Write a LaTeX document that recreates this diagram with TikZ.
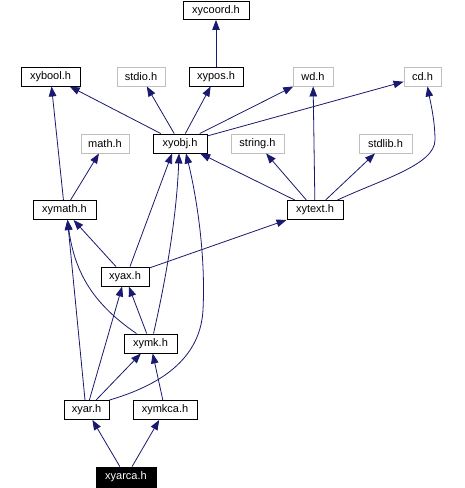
\documentclass[tikz,border=0pt]{standalone}
\usepackage{fontspec}
\setmainfont{Liberation Sans}
\usetikzlibrary{arrows.meta}
\definecolor{edgecol}{RGB}{25,25,112}
\definecolor{graybox}{RGB}{191,191,191}
\begin{document}
\begin{tikzpicture}[x=1pt,y=-1pt,
  hbox/.style={draw=black,line width=0.9pt,fill=white,inner sep=0pt,minimum height=19pt,font=\fontsize{11}{12}\selectfont},
  sysbox/.style={hbox,draw=graybox},
  rootbox/.style={hbox,fill=black,text=white},
  edge/.style={draw=edgecol,line width=0.8pt,-{Triangle[length=10pt,width=7.5pt]}}]
\useasboundingbox[fill=white] (0,0) rectangle (465,488);
% nodes
\node[hbox,minimum width=66pt,minimum height=18pt] (xycoord) at (216,10.5) {xycoord.h};
\node[hbox,minimum width=59pt] (xybool) at (50.5,76.5) {xybool.h};
\node[sysbox,minimum width=48pt] (stdio) at (141,76.5) {stdio.h};
\node[hbox,minimum width=54pt] (xypos) at (216,76.5) {xypos.h};
\node[sysbox,minimum width=40pt] (wd) at (313,76.5) {wd.h};
\node[sysbox,minimum width=37pt] (cd) at (422.5,76.5) {cd.h};
\node[sysbox,minimum width=48pt] (math) at (105,143.5) {math.h};
\node[hbox,minimum width=54pt] (xyobj) at (180,143.5) {xyobj.h};
\node[sysbox,minimum width=53pt] (string) at (257.5,143.5) {string.h};
\node[sysbox,minimum width=53pt] (stdlib) at (385.5,143.5) {stdlib.h};
\node[hbox,minimum width=63pt] (xymath) at (64.5,210) {xymath.h};
\node[hbox,minimum width=56pt] (xytext) at (315,210) {xytext.h};
\node[hbox,minimum width=48pt] (xyax) at (125,276.5) {xyax.h};
\node[hbox,minimum width=53pt] (xymk) at (150.5,343.5) {xymk.h};
\node[hbox,minimum width=45pt] (xyar) at (86.5,410) {xyar.h};
\node[hbox,minimum width=64pt] (xymkca) at (165,410) {xymkca.h};
\node[rootbox,minimum width=60pt,minimum height=20pt] (xyarca) at (126,477) {xyarca.h};
% edges
\draw[edge] (xypos) -- (xycoord);
\draw[edge] (xyobj) -- (xybool);
\draw[edge] (xyobj) -- (stdio);
\draw[edge] (xyobj) -- (xypos);
\draw[edge] (xyobj) -- (wd);
\draw[edge] (xyobj) -- (cd);
\draw[edge] (xymath) -- (xybool);
\draw[edge] (xymath) -- (math);
\draw[edge] (xytext) -- (xyobj);
\draw[edge] (xytext) -- (string);
\draw[edge] (xytext) -- (wd);
\draw[edge] (xytext) -- (stdlib);
\draw[edge] ([xshift=-6pt]xytext.north east) .. controls (380,180) and (435,165) .. (435,140) .. controls (435,120) and (430,100) .. ([xshift=5pt]cd.south);
\draw[edge] (xyax) -- (xymath);
\draw[edge] ([xshift=5pt]xyax.north) -- ([xshift=-8pt]xyobj.south);
\draw[edge] (xyax) -- (xytext);
\draw[edge] ([xshift=-14pt]xymk.north) .. controls (95,305) and (75,275) .. ([xshift=3pt]xymath.south);
\draw[edge] (xymk) -- (xyax);
\draw[edge] ([xshift=3pt]xymk.north) .. controls (168,270) and (177,210) .. ([xshift=-1pt]xyobj.south);
\draw[edge] ([xshift=-1.5pt]xyar.north) -- ([xshift=3pt]xymath.south);
\draw[edge] (xyar) -- (xyax);
\draw[edge] (xyar) -- (xymk);
\draw[edge] (xyar.north east) .. controls (150,388) and (200,365) .. (203,310) .. controls (206,250) and (195,190) .. ([xshift=6pt]xyobj.south);
\draw[edge] (xymkca) -- (xymk);
\draw[edge] (xyarca) -- (xyar);
\draw[edge] (xyarca) -- (xymkca);
\end{tikzpicture}
\end{document}
